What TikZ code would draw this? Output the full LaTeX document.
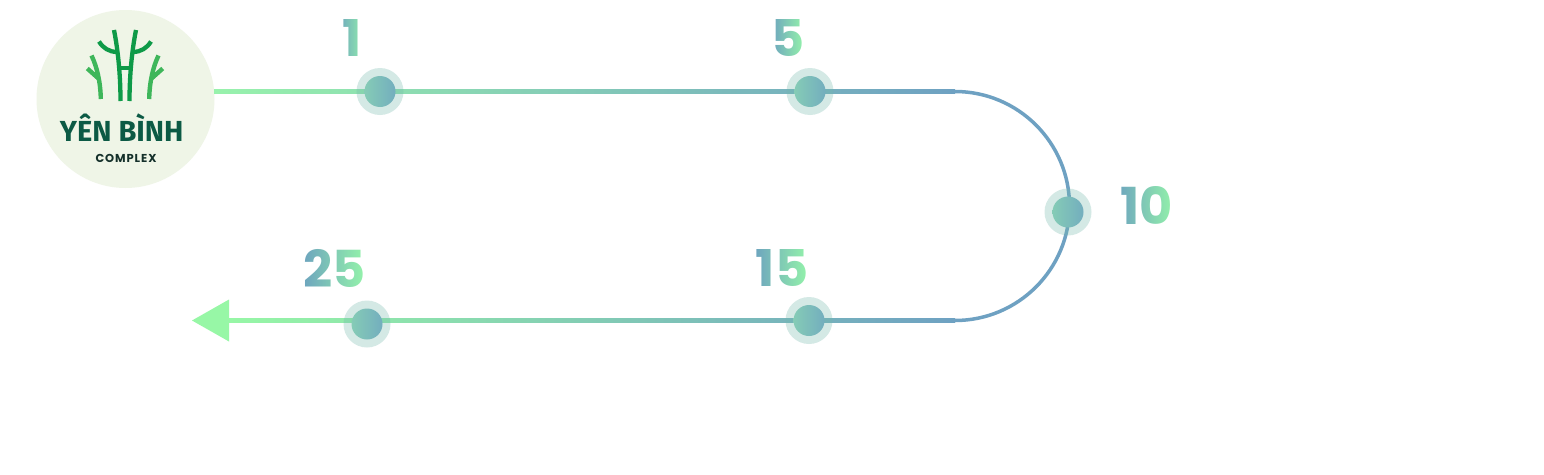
\documentclass[tikz,border=0pt]{standalone}
\usepackage{fontspec}
\usetikzlibrary{fadings,calc}
\newfontfamily\pop{Poppins}
\newfontfamily\fira{Fira Sans}
\definecolor{logobg}{HTML}{EFF5E7}
\definecolor{lgreen}{HTML}{98F2AC}
\definecolor{agreen}{HTML}{97F7A6}
\definecolor{lblue}{HTML}{6EA1C2}
\definecolor{tealc}{HTML}{6EA6BE}
\definecolor{greenc}{HTML}{94F3AA}
\definecolor{haloc}{HTML}{73B9AC}
\definecolor{dotl}{HTML}{85CBB6}
\definecolor{dotr}{HTML}{73AEBE}
\definecolor{dkgreen}{HTML}{0E9A48}
\definecolor{ltgreen}{HTML}{3EB65A}
\definecolor{logotxt}{HTML}{0C5A45}
\definecolor{cpxtxt}{HTML}{14302A}
\newcommand\labfont{\pop\bfseries\fontsize{51}{51}\selectfont}
\begin{document}
\pgfdeclarefading{fdone}{\color{pgftransparent!0}\labfont 1}
\pgfdeclarefading{fdfive}{\color{pgftransparent!0}\labfont 5}
\pgfdeclarefading{fdten}{\color{pgftransparent!0}\labfont 10}
\pgfdeclarefading{fdfifteen}{\color{pgftransparent!0}\labfont 15}
\pgfdeclarefading{fdtwentyfive}{\color{pgftransparent!0}\labfont 25}
\begin{tikzpicture}[x=1pt,y=-1pt,
  halo/.style={circle, fill=haloc, fill opacity=.3, minimum size=47, inner sep=0},
  core/.style={circle, left color=dotl, right color=dotr, minimum size=31, inner sep=0},
  dk/.style={draw=dkgreen, line width=4.3},
  lt/.style={draw=ltgreen, line width=4.4},
  lab/.style={left color=tealc, right color=greenc, fit fading=false}]
\useasboundingbox (0,0) rectangle (1544,474);
\fill[white] (0,0) rectangle (1544,474);
% logo
\node[circle, fill=logobg, minimum size=178, inner sep=0] (logo) at (125.5,99) {};
\draw[dk] (114,30) .. controls (118,50) and (120.5,75) .. (120.5,101);
\draw[dk] (136,30) .. controls (132,50) and (129.5,75) .. (129.5,101);
\draw[dk, line width=3.2] (119.5,68) -- (130.5,68);
\draw[dk] (99,41.5) .. controls (103,48) and (109,52) .. (117.5,52);
\draw[dk] (151,41.5) .. controls (147,48) and (141,52) .. (132.5,52);
\draw[lt] (91.5,55.5) .. controls (97,67) and (100.5,82) .. (100.8,99);
\draw[lt] (158.5,55.5) .. controls (153,67) and (149.5,82) .. (149.2,99);
\draw[lt] (87.3,68.5) -- (98.5,78.5);
\draw[lt] (162.7,68.5) -- (151.5,78.5);
\node[font=\fira\bfseries\fontsize{29}{29}\selectfont, text=logotxt, inner sep=0, anchor=base] (yb) at (121.7,141) {YÊN BÌNH};
\node[font=\pop\bfseries\fontsize{11.5}{11.5}\selectfont\addfontfeatures{LetterSpace=8}, text=cpxtxt, inner sep=0, anchor=base] (cpx) at (126,162.3) {COMPLEX};
% path
\coordinate (t0) at (214,91.5);
\coordinate (t1) at (955,91.5);
\coordinate (b1) at (955,320.5);
\coordinate (b0) at (228,320.5);
\coordinate (tip) at (192,320.5);
\shade[left color=lgreen, right color=lblue] ($(t0)+(0,-1.75)$) rectangle ($(t1)+(0,1.75)$);
\draw[lblue, line width=3.5] (t1) arc[start angle=-90, end angle=90, radius=114.5];
\shade[left color=agreen, right color=lblue] ($(b0)+(0,-1.75)$) rectangle ($(b1)+(0,1.75)$);
\fill[agreen] (tip) -- ($(b0)+(1,-21)$) -- ($(b0)+(1,21)$) -- cycle;
% dots
\node[halo] (h1) at (380,91.5) {};
\node[core] (d1) at (h1) {};
\node[halo] (h5) at (810,91.5) {};
\node[core] (d5) at (h5) {};
\node[halo] (h10) at (1068,212) {};
\node[core] (d10) at (h10) {};
\node[halo] (h15) at (809,320.5) {};
\node[core] (d15) at (h15) {};
\node[halo] (h25) at (367,324) {};
\node[core] (d25) at (h25) {};
% labels
\shade[lab, path fading=fdone, fading transform={shift={(352,38)}}] (338,17) rectangle (366,59);
\shade[lab, path fading=fdfive, fading transform={shift={(788,38)}}] (772,17) rectangle (804,59);
\shade[lab, path fading=fdten, fading transform={shift={(1146.5,205.5)}}] (1118.5,184.5) rectangle (1174.5,226.5);
\shade[lab, path fading=fdfifteen, fading transform={shift={(782,268)}}] (756,247) rectangle (808,289);
\shade[lab, path fading=fdtwentyfive, fading transform={shift={(334.5,268)}}] (304.5,247) rectangle (364.5,289);
\end{tikzpicture}
\end{document}
